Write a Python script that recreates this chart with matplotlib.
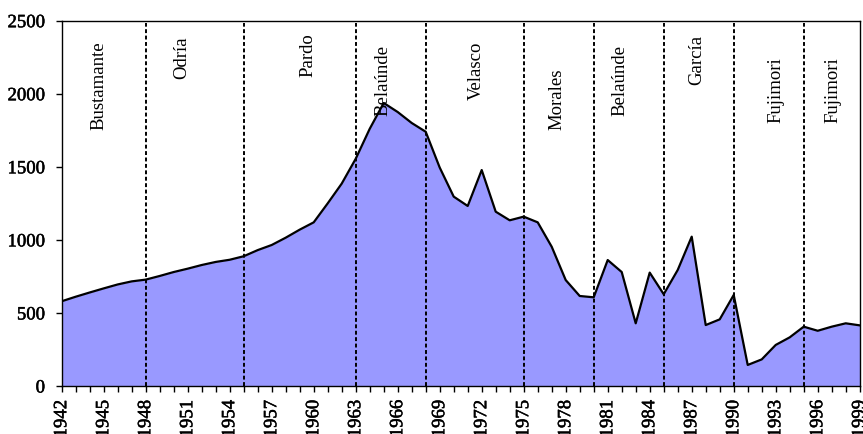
import matplotlib
matplotlib.use("Agg")
import matplotlib.pyplot as plt
import matplotlib.patheffects as pe

# Serie anual 1942-1999
anios = list(range(1942, 2000))
valores = [
    580, 611, 640, 668, 695, 716, 728, 753, 780, 803,
    828, 849, 864, 888, 930, 965, 1015, 1070, 1120, 1250,
    1385, 1555, 1760, 1937, 1875, 1800, 1740, 1495, 1296, 1232,
    1478, 1193, 1134, 1159, 1120, 953, 725, 616, 607, 862,
    780, 429, 776, 628, 794, 1022, 417, 456, 623, 144,
    182, 281, 333, 406, 378, 406, 429, 415,
]

# Cambios de gobierno (lineas verticales)
cortes = [1948, 1955, 1963, 1968, 1975, 1980, 1985, 1990, 1995]

# Nombres de los gobiernos
gobiernos = ["Bustamante", "Odría", "Pardo", "Belaúnde", "Velasco",
             "Morales", "Belaúnde", "García", "Fujimori", "Fujimori"]
# posicion de cada etiqueta (anio, valor del borde superior)
pos_x = [1944.66, 1950.57, 1959.61, 1964.93, 1971.59,
         1977.4, 1981.86, 1987.33, 1993.04, 1997.09]
pos_y = [2356, 2390, 2416, 2334, 2354, 2176, 2334, 2402, 2251, 2251]

fuente = "Liberation Serif"
# trazo un poco mas grueso para los numeros de los ejes
grueso = [pe.withStroke(linewidth=0.35, foreground="black")]

fig = plt.figure(figsize=(8.63, 4.34), dpi=100)
ax = fig.add_axes([0.0715, 0.1106, 0.9247, 0.8417])

ax.fill_between(anios, valores, 0, color="#9999FF", linewidth=0)
ax.plot(anios, valores, color="black", linewidth=1.6)

for c in cortes:
    ax.axvline(c, color="black", linewidth=1.4, linestyle=(0, (2, 1.3)), ymax=0.995)

for nombre, x, y in zip(gobiernos, pos_x, pos_y):
    ax.text(x, y, nombre, rotation=90, ha="center", va="top",
            fontsize=13.5, family=fuente)

ax.set_xlim(1942, 1999)
ax.set_ylim(0, 2500)
ax.set_yticks(range(0, 2501, 500))
ax.set_xticks(anios)
ax.set_xticklabels([str(a) if (a - 1942) % 3 == 0 else "" for a in anios],
                   rotation=90, family=fuente, fontsize=13.5)
for lbl in ax.get_xticklabels() + ax.get_yticklabels():
    lbl.set_family(fuente)
    lbl.set_fontsize(13.5)
    lbl.set_path_effects(grueso)

ax.tick_params(axis="y", direction="out", length=4, width=1, pad=8)
ax.tick_params(axis="x", direction="out", length=4, width=1, pad=6)
for s in ax.spines.values():
    s.set_color("black")
    s.set_linewidth(1)

fig.savefig("out.png", dpi=100)
